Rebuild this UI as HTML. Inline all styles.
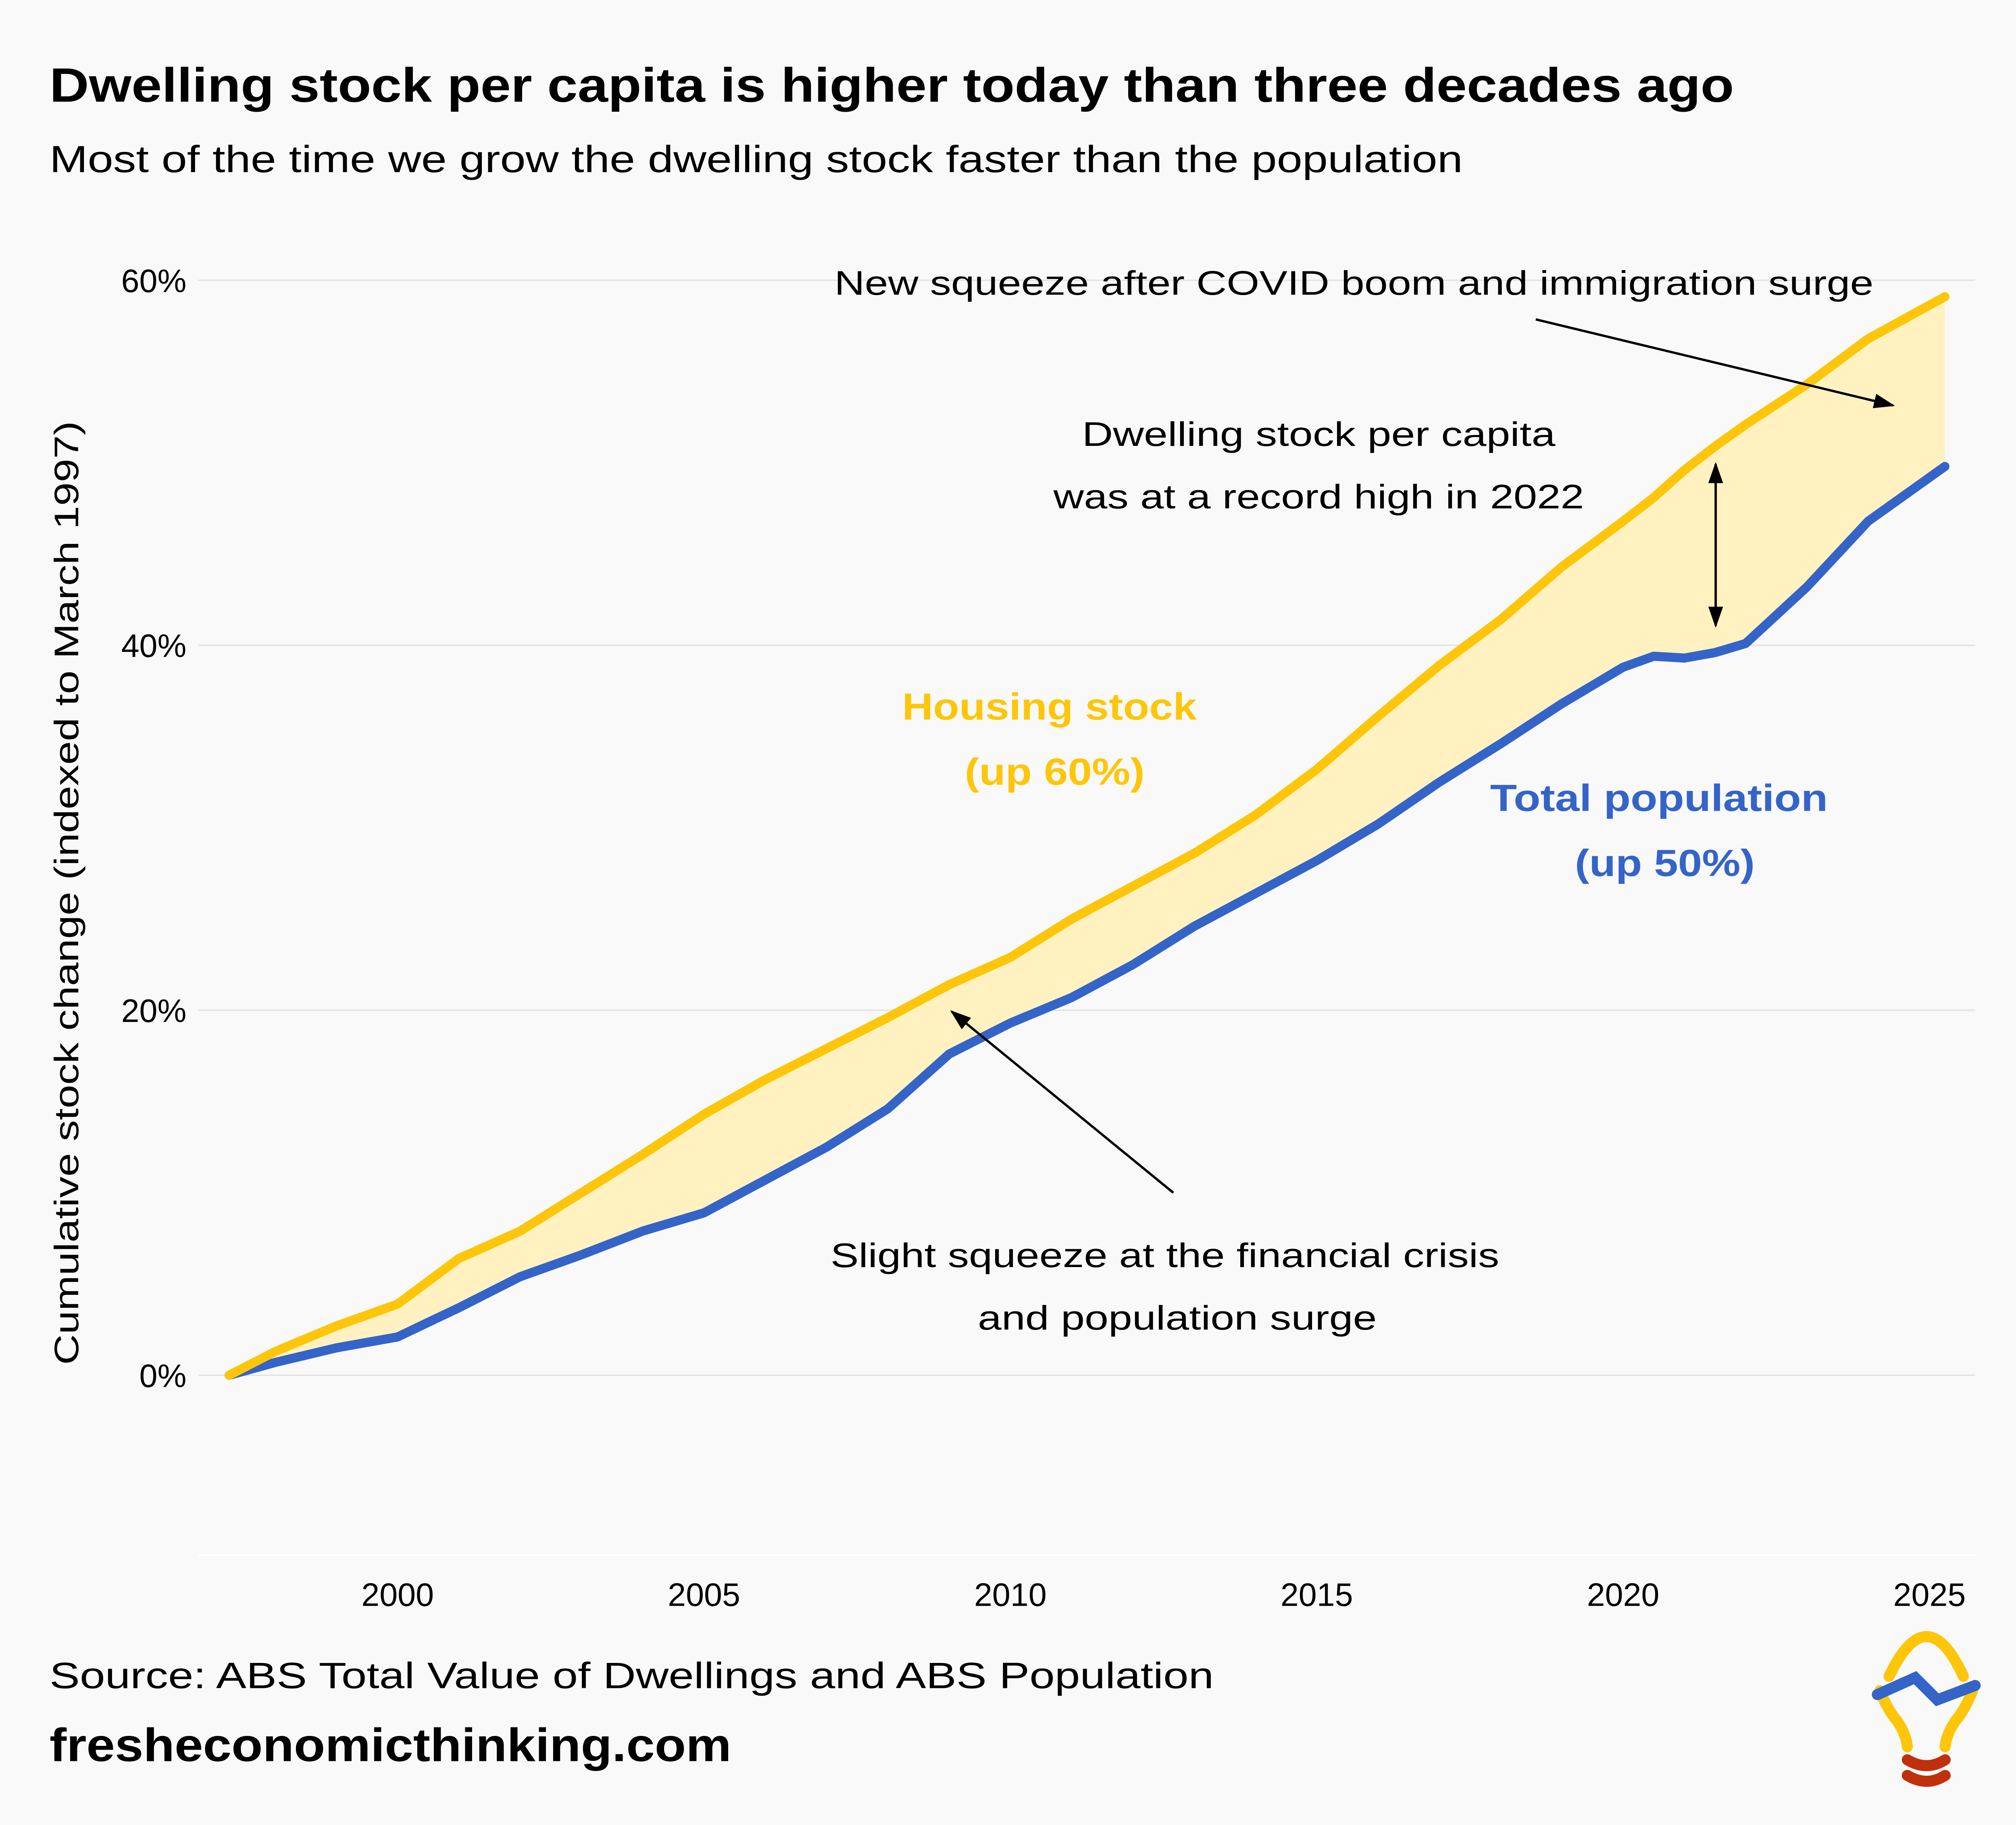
<!DOCTYPE html>
<html><head><meta charset="utf-8">
<style>
html,body{margin:0;padding:0;background:#f9f9f9;}
svg{display:block;}
text{font-family:"Liberation Sans",Arial,sans-serif;}
</style></head>
<body>
<svg id="chart" width="5070" height="4527" viewBox="0 0 1568 1400" xmlns="http://www.w3.org/2000/svg">
<rect width="1568" height="1400" fill="#f9f9f9"/>
<text x="38" y="78" font-size="37" font-weight="bold" fill="#000" textLength="1292" lengthAdjust="spacingAndGlyphs">Dwelling stock per capita is higher today than three decades ago</text>
<text x="38" y="132" font-size="29" fill="#000" textLength="1084" lengthAdjust="spacingAndGlyphs">Most of the time we grow the dwelling stock faster than the population</text>
<g id="grid"></g>
<g id="yticks"></g>
<g id="xticks"></g>
<line x1="152" y1="1193" x2="1515" y2="1193" stroke="#fff" stroke-width="1.5"/>
<text transform="translate(60,685) rotate(-90)" text-anchor="middle" font-size="26" fill="#000" textLength="724" lengthAdjust="spacingAndGlyphs">Cumulative stock change (indexed to March 1997)</text>
<path id="gap" fill="#fff2c0"/>
<path id="popLine" fill="none" stroke="#3464c8" stroke-width="7" stroke-linejoin="round" stroke-linecap="round"/>
<path id="houseLine" fill="none" stroke="#fec60a" stroke-width="7" stroke-linejoin="round" stroke-linecap="round"/>
<defs><marker id="ah" viewBox="0 0 10 10" refX="9" refY="5" markerWidth="9" markerHeight="9" orient="auto-start-reverse"><path d="M0,1.5 L10,5 L0,8.5 z" fill="#000"/></marker></defs>
<text x="640" y="226" font-size="26" fill="#000" textLength="797" lengthAdjust="spacingAndGlyphs">New squeeze after COVID boom and immigration surge</text>
<line x1="1178" y1="245" x2="1452" y2="311" stroke="#000" stroke-width="1.8" marker-end="url(#ah)"/>
<text font-size="26" fill="#000"><tspan x="830" y="342" textLength="363" lengthAdjust="spacingAndGlyphs">Dwelling stock per capita</tspan><tspan x="808" y="390" textLength="407" lengthAdjust="spacingAndGlyphs">was at a record high in 2022</tspan></text>
<line x1="1316" y1="356" x2="1316" y2="480" stroke="#000" stroke-width="1.8" marker-start="url(#ah)" marker-end="url(#ah)"/>
<text font-size="26" fill="#000"><tspan x="637" y="972" textLength="513" lengthAdjust="spacingAndGlyphs">Slight squeeze at the financial crisis</tspan><tspan x="750" y="1020" textLength="306" lengthAdjust="spacingAndGlyphs">and population surge</tspan></text>
<line x1="900" y1="915" x2="730" y2="776" stroke="#000" stroke-width="1.8" marker-end="url(#ah)"/>
<text font-size="29" font-weight="bold" fill="#fec60a"><tspan x="692" y="552" textLength="226" lengthAdjust="spacingAndGlyphs">Housing stock</tspan><tspan x="740" y="602" textLength="138" lengthAdjust="spacingAndGlyphs">(up 60%)</tspan></text>
<text font-size="29" font-weight="bold" fill="#3464c8"><tspan x="1143" y="622" textLength="259" lengthAdjust="spacingAndGlyphs">Total population</tspan><tspan x="1208" y="672" textLength="138" lengthAdjust="spacingAndGlyphs">(up 50%)</tspan></text>
<text x="38" y="1295" font-size="28" fill="#000" textLength="893" lengthAdjust="spacingAndGlyphs">Source: ABS Total Value of Dwellings and ABS Population</text>
<text x="38" y="1351" font-size="36" font-weight="bold" fill="#000" textLength="523" lengthAdjust="spacingAndGlyphs">fresheconomicthinking.com</text>
<g fill="none" stroke-linecap="round" stroke-width="8.5">
<path d="M1449,1286 Q1478,1225 1506,1286" stroke="#fec60a"/>
<path d="M1449,1307 Q1455,1322 1462,1330 Q1469,1340 1470,1350" stroke="#fec60a" transform="translate(-7,-10)"/>
<path d="M1506,1307 Q1500,1322 1493,1330 Q1486,1340 1485,1350" stroke="#fec60a" transform="translate(7,-10)"/>
<path d="M1440,1300 L1469,1287 L1486,1304 L1515,1293" stroke="#3464c8"/>
<path d="M1463,1350 Q1478,1359 1492,1350" stroke="#c0300c"/>
<path d="M1463,1362 Q1478,1371 1492,1362" stroke="#c0300c"/>
</g>
</svg>
<script>
const yTicks=[0,20,40,60];
const yTickLabels=["0%","20%","40%","60%"];
const xTicks=[2000,2005,2010,2015,2020,2025];
const years=[1997.25,1998,1999,2000,2001,2002,2003,2004,2005,2006,2007,2008,2009,2010,2011,2012,2013,2014,2015,2016,2017,2018,2019,2020,2020.5,2021,2021.5,2022,2023,2024,2025.25];
const housing=[0,1.3,2.7,3.9,6.4,7.9,10,12.1,14.3,16.2,17.9,19.6,21.4,22.9,25,26.8,28.6,30.7,33.2,36.1,38.9,41.4,44.3,46.8,48.1,49.6,50.9,52.1,54.3,56.8,59.1];
const population=[0,0.7,1.5,2.1,3.7,5.4,6.6,7.9,8.9,10.7,12.5,14.6,17.6,19.3,20.7,22.5,24.6,26.4,28.2,30.2,32.5,34.6,36.8,38.8,39.4,39.3,39.6,40.1,43.2,46.8,49.8];
const X=y=>305+(y-2000)*47;
const Y=v=>1055-v*14;
const NS="http://www.w3.org/2000/svg";
const grid=document.getElementById('grid'),yt=document.getElementById('yticks'),xt=document.getElementById('xticks');
yTicks.forEach((v,i)=>{
 const l=document.createElementNS(NS,'line');
 l.setAttribute('x1',152);l.setAttribute('x2',1515);l.setAttribute('y1',Y(v));l.setAttribute('y2',Y(v));
 l.setAttribute('stroke','#e2e2e2');l.setAttribute('stroke-width','1');
 
 
 grid.appendChild(l);
 const t=document.createElementNS(NS,'text');
 t.setAttribute('x',143);t.setAttribute('y',Y(v)+9);t.setAttribute('text-anchor','end');t.setAttribute('font-size','25');
 t.textContent=yTickLabels[i];
 
 
 yt.appendChild(t);
});
xTicks.forEach(v=>{
 const t=document.createElementNS(NS,'text');
 t.setAttribute('x',X(v));t.setAttribute('y',1232);t.setAttribute('text-anchor','middle');t.setAttribute('font-size','25');
 t.textContent=v;
 
 
 xt.appendChild(t);
});
const pts=a=>years.map((y,i)=>X(y).toFixed(1)+','+Y(a[i]).toFixed(1));
const hp=pts(housing),pp=pts(population);
document.getElementById('houseLine').setAttribute('d','M'+hp.join('L'));
document.getElementById('popLine').setAttribute('d','M'+pp.join('L'));
document.getElementById('gap').setAttribute('d','M'+hp.join('L')+'L'+pp.slice().reverse().join('L')+'Z');
</script>
</body></html>
